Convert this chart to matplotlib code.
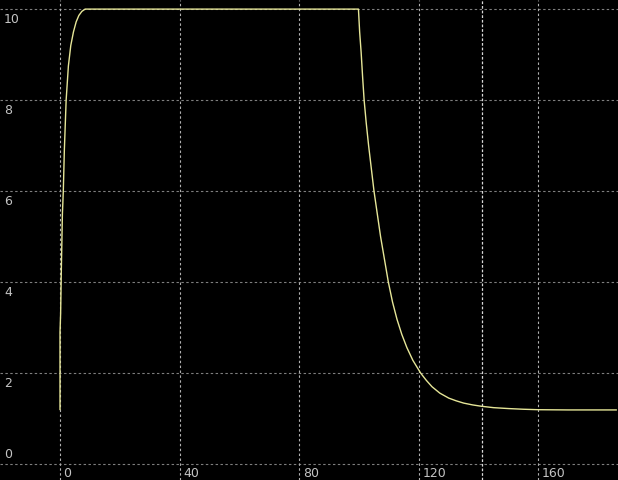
import matplotlib
matplotlib.use("Agg")
import matplotlib.pyplot as plt
import matplotlib.transforms as mtrans
from matplotlib.transforms import offset_copy

# ---- data ----
rise_t = [0.0, 0.0, 0.2, 0.33, 0.45, 0.8, 1.1, 1.45, 2.05, 2.8, 3.6, 4.5, 5.4, 6.3, 7.3, 8.4]
rise_v = [1.2, 2.9, 3.3, 3.8, 4.3, 5.5, 6.0, 6.9, 8.0, 8.75, 9.2, 9.5, 9.72, 9.86, 9.95, 10.0]
fall_t = [99.8, 100.2, 100.7, 101.2, 101.7, 102.4, 103.2, 104.1, 105.0, 106.1, 107.2,
          108.5, 109.8, 111.2, 112.7, 114.3, 116.0, 118.0, 120.6, 122.5, 124.4, 127.0,
          130.0, 132.5, 135.0, 138.0, 141.0, 145.0, 150.0, 155.0, 160.0, 170.0, 186.0]
fall_v = [10.0, 9.5, 9.05, 8.5, 8.0, 7.5, 7.0, 6.5, 6.0, 5.5, 5.0,
          4.5, 4.0, 3.56, 3.18, 2.85, 2.56, 2.28, 2.0, 1.84, 1.70, 1.56,
          1.45, 1.39, 1.34, 1.30, 1.27, 1.24, 1.22, 1.205, 1.195, 1.19, 1.19]
x_ticks = [0, 40, 80, 120, 160]
y_ticks = [0, 2, 4, 6, 8, 10]
cursor_x = [141]

t = rise_t + fall_t
v = rise_v + fall_v

fig = plt.figure(figsize=(6.18, 4.80), dpi=100, facecolor="black")
ax = fig.add_axes([0, 0, 1, 1], facecolor="black")
ax.set_xlim(-20.07, 186.6)
ax.set_ylim(-0.35, 10.2)
for s in ax.spines.values():
    s.set_visible(False)
ax.set_xticks([])
ax.set_yticks([])

for yv in y_ticks:
    ax.axhline(yv, color="#7e7e7e", lw=0.8, dashes=(2.2, 2.2), zorder=1)
for xv in x_ticks:
    ax.axvline(xv, color="#b0b0b0", lw=0.8, dashes=(2.2, 2.2), zorder=1)
for xv in cursor_x:
    ax.axvline(xv, color="#d8d8d8", lw=0.9, dashes=(2.2, 1.5), zorder=1)

ax.plot(t, v, color="#e6e698", lw=1.0, zorder=3)

lab_col = "#c4c4c4"
fs = 9
ytrans = mtrans.blended_transform_factory(ax.transAxes, ax.transData)
for yv in y_ticks:
    if yv == y_ticks[0]:
        tr = offset_copy(ytrans, fig=fig, x=3, y=2.5, units="points")
        ax.text(0, yv, str(yv), transform=tr, color=lab_col, fontsize=fs, ha="left", va="bottom")
    else:
        tr = offset_copy(ytrans, fig=fig, x=3, y=-2.5, units="points")
        ax.text(0, yv, str(yv), transform=tr, color=lab_col, fontsize=fs, ha="left", va="top")
for xv in x_ticks:
    tr = offset_copy(ax.transData, fig=fig, x=2.5, y=-2.0, units="points")
    ax.text(xv, y_ticks[0], str(xv), transform=tr, color=lab_col, fontsize=fs, ha="left", va="top")

fig.savefig("out.png", dpi=100, facecolor="black")
